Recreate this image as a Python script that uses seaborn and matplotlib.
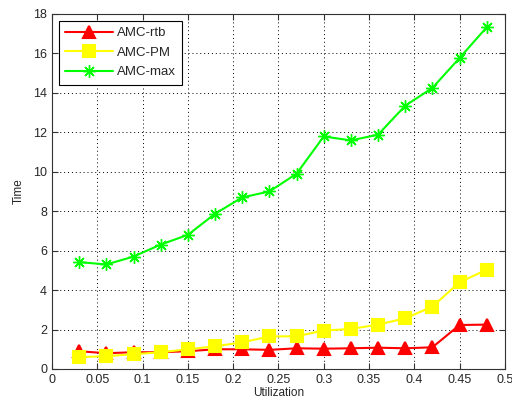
import numpy as np
import pandas as pd
import matplotlib
matplotlib.use("Agg")
import matplotlib.pyplot as plt
import seaborn as sns

utilization = [0.03, 0.06, 0.09, 0.12, 0.15, 0.18, 0.21, 0.24,
               0.27, 0.30, 0.33, 0.36, 0.39, 0.42, 0.45, 0.48]
amc_rtb = [0.9, 0.8, 0.85, 0.85, 0.9, 1.0, 1.0, 0.97,
           1.05, 1.03, 1.05, 1.08, 1.05, 1.1, 2.23, 2.25]
amc_pm = [0.6, 0.65, 0.75, 0.85, 1.0, 1.15, 1.35, 1.65,
          1.66, 1.95, 2.03, 2.25, 2.57, 3.16, 4.4, 5.03]
amc_max = [5.42, 5.3, 5.7, 6.31, 6.8, 7.87, 8.7, 9.0,
           9.9, 11.79, 11.59, 11.88, 13.35, 14.25, 15.77, 17.33]

# name, values, colour, marker, size, marker edge width
series = [
    ("AMC-rtb", amc_rtb, "#ff0000", "^", 9, 1.5),
    ("AMC-PM", amc_pm, "#ffff00", "s", 8, 1.5),
    ("AMC-max", amc_max, "#00ff00", (8, 2, 0), 9, 1.0),
]

sns.set_style("ticks")
plt.rcParams["font.family"] = ["Liberation Sans", "DejaVu Sans"]

fig = plt.figure(figsize=(5.12, 4.08), dpi=100)
ax = fig.add_axes([0.1016, 0.0956, 0.8844, 0.8701])

for name, vals, color, marker, ms, mew in series:
    df = pd.DataFrame({"Utilization": utilization, "Time": vals})
    sns.lineplot(data=df, x="Utilization", y="Time", ax=ax, color=color,
                 marker=marker, markersize=ms, markeredgecolor=color,
                 markeredgewidth=mew, linewidth=1.5, label=name)

ax.set_xlim(0, 0.5)
ax.set_ylim(0, 18)
ax.set_xticks(np.arange(0, 0.51, 0.05))
ax.set_xticklabels(["0", "0.05", "0.1", "0.15", "0.2", "0.25", "0.3",
                    "0.35", "0.4", "0.45", "0.5"])
ax.set_yticks(np.arange(0, 19, 2))
ax.grid(True, linestyle=(0, (1, 3)), color="black", linewidth=0.7)
ax.tick_params(direction="in", top=True, right=True, labelsize=9,
               length=4, color="#333333")
for s in ax.spines.values():
    s.set_color("#333333")
    s.set_linewidth(0.8)
ax.set_xlabel("Utilization", fontsize=8.5, labelpad=1)
ax.set_ylabel("Time", fontsize=8.5, labelpad=6)

leg = ax.legend(loc="upper left", fontsize=9.5, handlelength=3.6,
                fancybox=False, edgecolor="black", framealpha=1,
                borderaxespad=0.5, labelspacing=0.55, handletextpad=0.3,
                borderpad=0.5)
leg.get_frame().set_linewidth(0.8)

fig.savefig("out.png", dpi=100)
